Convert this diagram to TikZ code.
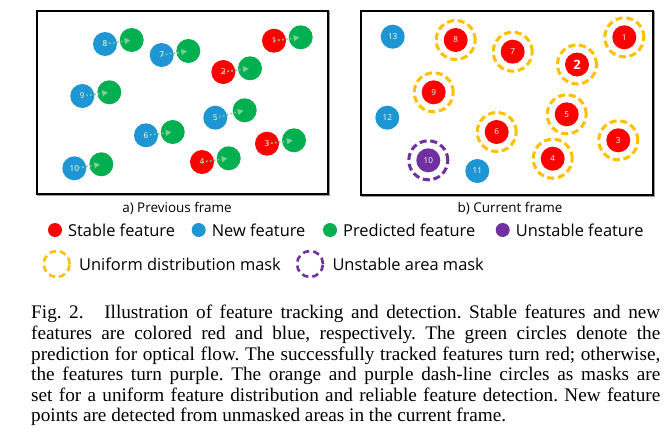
\documentclass[tikz,border=0pt]{standalone}
\usepackage{fontspec}
\setmainfont{Liberation Serif}
\newfontfamily\uifont{Open Sans}
\usetikzlibrary{arrows.meta,positioning}
\definecolor{stablered}{RGB}{255,0,0}
\definecolor{newblue}{RGB}{31,150,212}
\definecolor{predgreen}{RGB}{0,176,80}
\definecolor{unstpurple}{RGB}{112,48,160}
\definecolor{maskorange}{RGB}{255,192,0}
\definecolor{flowgreen}{RGB}{125,205,150}

\begin{document}
\begin{tikzpicture}[x=0.03cm,y=-0.03cm,
    feat/.style={circle,fill=#1,minimum size=0.72cm,inner sep=0pt,text=white,font=\uifont\fontsize{7}{8}\selectfont},
    pmask/.style={circle,draw=#1,line width=2.6pt,dash pattern=on 6pt off 3.2pt,minimum size=1.17cm,inner sep=0pt},
    lmask/.style={circle,draw=#1,line width=2.2pt,dash pattern=on 5.5pt off 3.5pt,minimum size=0.78cm,inner sep=0pt},
    flow/.style={flowgreen,dotted,line width=1.4pt,shorten >=1pt,-{Triangle[length=5pt,width=5pt]}},
    legtext/.style={inner sep=0pt,font=\uifont\fontsize{14}{16}\selectfont},
    paneltext/.style={inner sep=0pt,font=\uifont\fontsize{11.5}{13}\selectfont}]
    \useasboundingbox (0,0) rectangle (670,447);
    % frames
    \foreach \fx/\fX/\fY in {37/328/194,361/653/195}{
        \draw[black!40,line width=1.5pt] (\fx+1.3,12.3) rectangle (\fX+1.3,\fY+1.3);
        \draw[fill=white,line width=1.1pt] (\fx,11) rectangle (\fX,\fY);
    }
    % a) previous frame
    \foreach \n/\x/\y/\c/\px/\py in {1/274/40.7/stablered/300.7/37.3,2/223.3/72/stablered/250/68.3,
        3/267/143.7/stablered/294/140.3,4/202/162/stablered/228.7/158.3,5/215.3/117.7/newblue/244.7/110.3,
        6/146/135.3/newblue/172.7/132,7/161.7/55/newblue/188.3/51,8/105/44/newblue/131.7/40,
        9/82.3/96/newblue/109.3/92.3,10/74.3/168.3/newblue/101.3/164.3}{
        \node[feat=\c] (a\n) at (\x,\y) {\n};
        \node[feat=predgreen] (p\n) at (\px,\py) {};
        \draw[flow] (a\n.center) -- (p\n.center);
    }
    \node[paneltext] (capa) at (177,208) {a) Previous frame};
    % b) current frame
    \foreach \n/\x/\y in {1/624.3/37.3,3/618.3/140.3,4/552.7/158.7,5/566.7/114.3,
        6/496.7/132,7/512.7/51.7,8/455.7/40,9/433.7/92.3}{
        \node[pmask=maskorange] (m\n) at (\x,\y) {};
        \node[feat=stablered] (b\n) at (\x,\y) {\n};
    }
    \node[pmask=maskorange] (m2) at (577,64.5) {};
    \node[feat=stablered,font=\uifont\bfseries\fontsize{11}{12}\selectfont] (b2) at (577,64.5) {2};
    \node[pmask=unstpurple] (m10) at (428.3,160.3) {};
    \node[feat=unstpurple] (b10) at (428.3,160.3) {10};
    \foreach \n/\x/\y in {11/477.3/171,12/387.3/117.7,13/392.7/36.7}{
        \node[feat=newblue] (b\n) at (\x,\y) {\n};
    }
    \node[paneltext] (capb) at (510,208) {b) Current frame};
    % legend
    \node[feat=stablered,minimum size=0.42cm] (lred) at (55,230) {};
    \node[legtext,right=0.17cm of lred] (tred) {Stable feature};
    \node[feat=newblue,minimum size=0.42cm] (lblue) at (198.7,230) {};
    \node[legtext,right=0.17cm of lblue] (tblue) {New feature};
    \node[feat=predgreen,minimum size=0.42cm] (lgreen) at (330,230) {};
    \node[legtext,right=0.17cm of lgreen] (tgreen) {Predicted feature};
    \node[feat=unstpurple,minimum size=0.42cm] (lpurple) at (502.7,230) {};
    \node[legtext,right=0.17cm of lpurple] (tpurple) {Unstable feature};
    \node[lmask=maskorange] (lumask) at (56.7,264) {};
    \node[legtext,right=0.24cm of lumask] (tumask) {Uniform distribution mask};
    \node[lmask=unstpurple] (lpmask) at (310,264) {};
    \node[legtext,right=0.24cm of lpmask] (tpmask) {Unstable area mask};
    % caption
    \node[anchor=north west,inner sep=0pt,text width=18.87cm,align=justify,
        font=\fontsize{16.4}{17.6}\selectfont\frenchspacing] (figcap) at (31,305) {Fig.~2.\hspace{0.62cm}Illustration of feature tracking and detection. Stable features and new\linebreak
        features are colored red and blue, respectively. The green circles denote the\linebreak
        prediction for optical flow. The successfully tracked features turn red; otherwise,\linebreak
        the features turn purple. The orange and purple dash-line circles as masks are\linebreak
        set for a uniform feature distribution and reliable feature detection. New feature\linebreak
        points are detected from unmasked areas in the current frame.};
\end{tikzpicture}
\end{document}
